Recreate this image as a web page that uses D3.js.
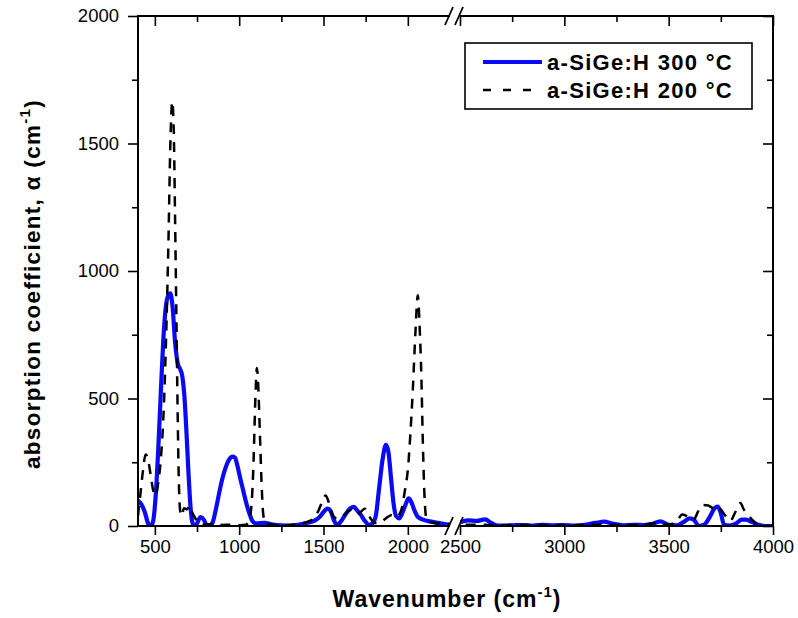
<!DOCTYPE html>
<html>
<head>
<meta charset="utf-8">
<script src="https://cdn.jsdelivr.net/npm/d3@7"></script>
<style>
    body { margin: 0; background: #fff; }
    text { font-family: "Liberation Sans", Arial, sans-serif; }
</style>
</head>
<body>
<svg id="chart"></svg>
<script>
// a-SiGe:H 300 °C (solid blue)
const blueX = [400, 420, 440, 460, 475, 490, 505, 520, 535, 550, 565, 580, 592, 605, 620, 635, 650, 662, 675, 688, 700, 712, 722, 735, 750, 770, 790, 805, 820, 840, 860, 880, 900, 920, 940, 960, 975, 990, 1005, 1020, 1040, 1060, 1080, 1100, 1150, 1200, 1250, 1300, 1350, 1400, 1450, 1480, 1500, 1525, 1545, 1560, 1580, 1600, 1630, 1660, 1680, 1700, 1720, 1745, 1770, 1790, 1810, 1830, 1850, 1870, 1885, 1900, 1915, 1930, 1950, 1970, 1990, 2005, 2020, 2040, 2060, 2090, 2130, 2180, 2250,
    2500, 2540, 2580, 2620, 2650, 2680, 2750, 2800, 2850, 2900, 2950, 3000, 3050, 3100, 3150, 3190, 3230, 3280, 3330, 3380, 3420, 3460, 3500, 3540, 3570, 3600, 3620, 3645, 3670, 3700, 3720, 3735, 3750, 3765, 3790, 3820, 3850, 3870, 3900, 3930, 3960, 4000];
const blueY = [100, 85, 55, 10, 0, 20, 120, 300, 520, 730, 860, 905, 912, 860, 720, 640, 615, 590, 510, 360, 200, 70, 15, 0, 10, 35, 25, 5, 0, 10, 60, 125, 185, 230, 260, 272, 268, 235, 190, 150, 95, 50, 18, 10, 12, 6, 3, 2, 5, 12, 22, 38, 55, 68, 55, 25, 5, 15, 45, 70, 75, 60, 45, 20, 5, 10, 40, 150, 260, 318, 290, 190, 90, 40, 30, 55, 90, 108, 95, 60, 35, 25, 18, 12, 5,
    15, 22, 20, 26, 12, 2, 3, 4, 2, 5, 3, 4, 2, 5, 12, 17, 10, 3, 5, 4, 8, 18, 5, 3, 15, 30, 25, 0, 5, 40, 70, 76, 50, 5, 2, 8, 25, 25, 15, 5, 0, 0];

// a-SiGe:H 200 °C (dashed black)
const blackX = [400, 415, 430, 445, 460, 475, 490, 505, 520, 535, 550, 565, 580, 592, 603, 612, 620, 628, 635, 642, 650, 660, 672, 690, 705, 720, 740, 760, 800, 850, 900, 950, 1000, 1040, 1060, 1075, 1085, 1095, 1105, 1113, 1122, 1132, 1142, 1155, 1200, 1250, 1300, 1350, 1400, 1440, 1470, 1495, 1512, 1530, 1555, 1580, 1610, 1640, 1660, 1690, 1720, 1745, 1765, 1790, 1820, 1850, 1880, 1905, 1930, 1960, 1985, 2000, 2015, 2030, 2045, 2059, 2070, 2080, 2090, 2100, 2110, 2130, 2180, 2250,
    2500, 2600, 2700, 2800, 3000, 3200, 3300, 3400, 3450, 3500, 3540, 3565, 3590, 3620, 3640, 3660, 3690, 3710, 3730, 3750, 3772, 3795, 3820, 3844, 3860, 3880, 3900, 3920, 3950, 4000];
const blackY = [40, 130, 220, 280, 260, 200, 140, 120, 170, 260, 420, 700, 1100, 1500, 1665, 1550, 1200, 800, 450, 180, 60, 40, 70, 65, 80, 55, 30, 10, 5, 8, 4, 5, 3, 5, 25, 100, 250, 480, 620, 550, 380, 180, 50, 10, 5, 3, 4, 8, 15, 30, 60, 100, 120, 95, 40, 30, 35, 55, 62, 45, 55, 68, 45, 20, 10, 20, 35, 43, 35, 60, 150, 220, 360, 540, 760, 905, 780, 590, 300, 100, 30, 15, 10, 8,
    5, 5, 3, 4, 3, 5, 3, 8, 12, 6, 20, 45, 38, 25, 55, 82, 80, 72, 78, 65, 40, 20, 55, 90, 65, 45, 25, 10, 0, 0];

const seriesNames = ["a-SiGe:H 300 °C", "a-SiGe:H 200 °C"];

const xMajor = [500, 1000, 1500, 2000, 2500, 3000, 3500, 4000];
const xMinor = [750, 1250, 1750, 2750, 3250, 3750];
const yMajor = [0, 500, 1000, 1500, 2000];
const yMinor = [250, 750, 1250, 1750];

// Layout
const width = 798;
const height = 618;
const margin = { top: 16, right: 25, bottom: 92, left: 138 };
const plotR = width - margin.right;
const plotB = height - margin.bottom;
const breakL = 450, breakR = 460;
const blue = "#0a0af5";

const svg = d3.select("#chart")
    .attr("width", width)
    .attr("height", height);

// Broken x axis: 400-2250 | 2500-4000
const xScale = d3.scaleLinear()
    .domain([400, 2250, 2500, 4000])
    .range([margin.left, breakL, breakR, plotR]);

const yScale = d3.scaleLinear()
    .domain([0, 2000])
    .range([plotB, margin.top]);

// Clip so nothing is drawn in the break gap
const defs = svg.append("defs");
defs.append("clipPath").attr("id", "clipL")
    .append("rect")
    .attr("x", margin.left).attr("y", margin.top - 5)
    .attr("width", breakL - margin.left).attr("height", plotB - margin.top + 5);
defs.append("clipPath").attr("id", "clipR")
    .append("rect")
    .attr("x", breakR).attr("y", margin.top - 5)
    .attr("width", plotR - breakR).attr("height", plotB - margin.top + 5);

const line = d3.line()
    .x(d => xScale(d[0]))
    .y(d => yScale(d[1]))
    .curve(d3.curveMonotoneX);

const blueData = blueX.map((x, i) => [x, blueY[i]]);
const blackData = blackX.map((x, i) => [x, blackY[i]]);

["clipL", "clipR"].forEach(c => {
    svg.append("path")
        .datum(blueData)
        .attr("clip-path", `url(#${c})`)
        .attr("d", line)
        .attr("fill", "none")
        .attr("stroke", blue)
        .attr("stroke-width", 4.2)
        .attr("stroke-linejoin", "round");

    svg.append("path")
        .datum(blackData)
        .attr("clip-path", `url(#${c})`)
        .attr("d", line)
        .attr("fill", "none")
        .attr("stroke", "#000")
        .attr("stroke-width", 2.5)
        .attr("stroke-dasharray", "10,8");
});

// Axes
function styleAxis(g) {
    g.select(".domain").remove();
    g.selectAll(".tick line").attr("stroke", "#000").attr("stroke-width", 1.6);
    g.selectAll("text")
        .attr("fill", "#000")
        .style("font-size", "18.5px");
}

// bottom (outward ticks, labelled)
svg.append("g")
    .attr("transform", `translate(0,${plotB})`)
    .call(d3.axisBottom(xScale).tickValues(xMajor).tickSize(9).tickPadding(5).tickFormat(d3.format("d")))
    .call(styleAxis);
svg.append("g")
    .attr("transform", `translate(0,${plotB})`)
    .call(d3.axisBottom(xScale).tickValues(xMinor).tickSize(6).tickFormat(""))
    .call(styleAxis);

// top (inward ticks)
svg.append("g")
    .attr("transform", `translate(0,${margin.top})`)
    .call(d3.axisBottom(xScale).tickValues(xMajor).tickSize(10).tickFormat(""))
    .call(styleAxis);
svg.append("g")
    .attr("transform", `translate(0,${margin.top})`)
    .call(d3.axisBottom(xScale).tickValues(xMinor).tickSize(6).tickFormat(""))
    .call(styleAxis);

// left (outward ticks, labelled)
svg.append("g")
    .attr("transform", `translate(${margin.left},0)`)
    .call(d3.axisLeft(yScale).tickValues(yMajor).tickSize(10).tickPadding(9).tickFormat(d3.format("d")))
    .call(styleAxis);
svg.append("g")
    .attr("transform", `translate(${margin.left},0)`)
    .call(d3.axisLeft(yScale).tickValues(yMinor).tickSize(6).tickFormat(""))
    .call(styleAxis);

// right (inward ticks)
svg.append("g")
    .attr("transform", `translate(${plotR},0)`)
    .call(d3.axisLeft(yScale).tickValues(yMajor).tickSize(10).tickFormat(""))
    .call(styleAxis);
svg.append("g")
    .attr("transform", `translate(${plotR},0)`)
    .call(d3.axisLeft(yScale).tickValues(yMinor).tickSize(6).tickFormat(""))
    .call(styleAxis);

// Frame lines
const frame = svg.append("g")
    .attr("stroke", "#000")
    .attr("stroke-width", 2)
    .attr("fill", "none");
frame.append("line").attr("x1", margin.left).attr("x2", margin.left).attr("y1", margin.top).attr("y2", plotB);
frame.append("line").attr("x1", plotR).attr("x2", plotR).attr("y1", margin.top).attr("y2", plotB);
[margin.top, plotB].forEach(y => {
    frame.append("line").attr("x1", margin.left - 1).attr("x2", breakL).attr("y1", y).attr("y2", y);
    frame.append("line").attr("x1", breakR).attr("x2", plotR + 1).attr("y1", y).attr("y2", y);
});

// Break marks "//"
[margin.top, plotB].forEach(y => {
    [breakL - 1, breakR - 1].forEach(x => {
        svg.append("line")
            .attr("x1", x - 4).attr("y1", y + 9)
            .attr("x2", x + 4).attr("y2", y - 9)
            .attr("stroke", "#000")
            .attr("stroke-width", 1.8);
    });
});

// Legend
const legend = svg.append("g");
legend.append("rect")
    .attr("x", 465).attr("y", 43)
    .attr("width", 287).attr("height", 66)
    .attr("fill", "#fff")
    .attr("stroke", "#000")
    .attr("stroke-width", 1.6);

const legendItems = [
    { name: seriesNames[0], color: blue, width: 4.2, dash: null },
    { name: seriesNames[1], color: "#000", width: 2.5, dash: "8,12" }
];
legendItems.forEach((d, i) => {
    const y = 62 + i * 28;
    legend.append("line")
        .attr("x1", 483).attr("x2", 542)
        .attr("y1", y).attr("y2", y)
        .attr("stroke", d.color)
        .attr("stroke-width", d.width)
        .attr("stroke-dasharray", d.dash);
    legend.append("text")
        .attr("x", 547).attr("y", y + 8)
        .style("font-size", "22px")
        .style("font-weight", "bold")
        .style("letter-spacing", "1.3px")
        .text(d.name);
});

// Axis titles
const xt = svg.append("text")
    .attr("x", 447)
    .attr("y", 607)
    .attr("text-anchor", "middle")
    .style("font-size", "23px")
    .style("font-weight", "bold")
    .style("letter-spacing", "1px");
xt.append("tspan").text("Wavenumber (cm");
xt.append("tspan").attr("dy", -10).style("font-size", "15px").text("-1");
xt.append("tspan").attr("dy", 10).text(")");

const yt = svg.append("text")
    .attr("transform", "translate(40,284) rotate(-90)")
    .attr("text-anchor", "middle")
    .style("font-size", "22.5px")
    .style("font-weight", "bold")
    .style("letter-spacing", "1.3px");
yt.append("tspan").text("absorption coefficient, α (cm");
yt.append("tspan").attr("dy", -10).style("font-size", "15px").text("-1");
yt.append("tspan").attr("dy", 10).text(")");
</script>
</body>
</html>
